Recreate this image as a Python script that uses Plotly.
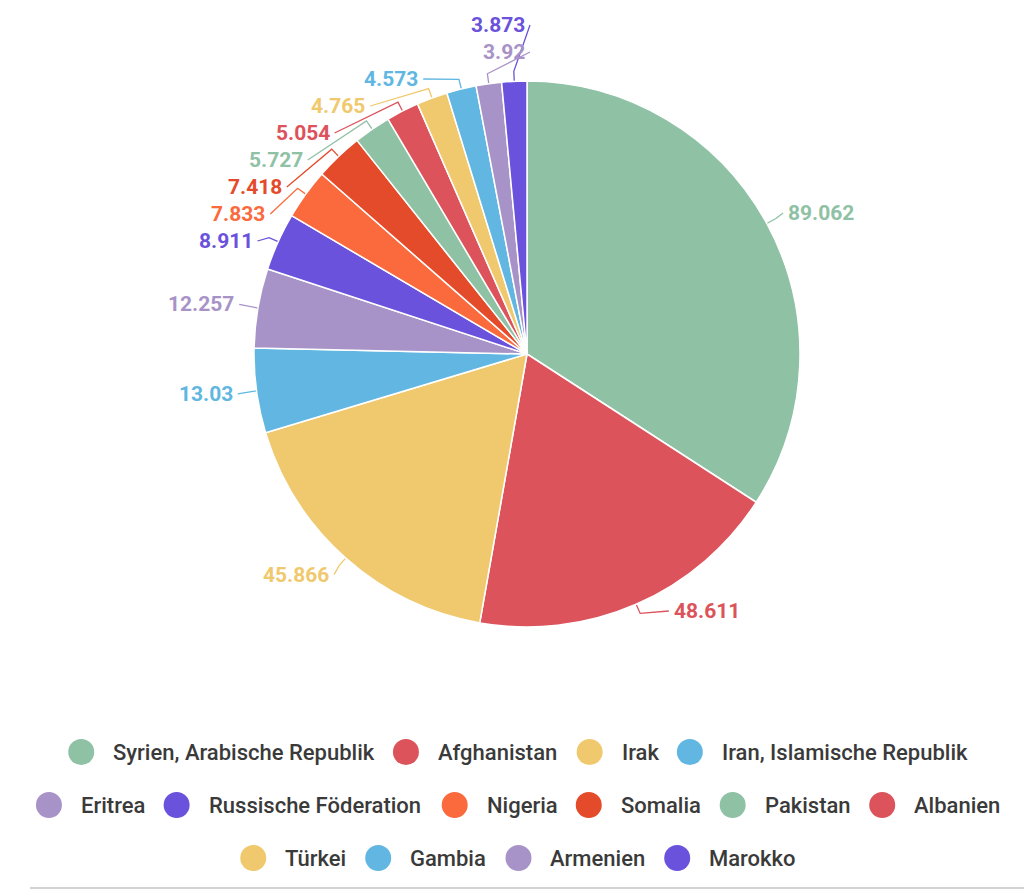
import math
import plotly.graph_objects as go

# ---------------- data ----------------
labels = ["Syrien, Arabische Republik", "Afghanistan", "Irak", "Iran, Islamische Republik",
          "Eritrea", "Russische Föderation", "Nigeria", "Somalia", "Pakistan", "Albanien",
          "Türkei", "Gambia", "Armenien", "Marokko"]
values = [89.062, 48.611, 45.866, 13.03, 12.257, 8.911, 7.833, 7.418, 5.727, 5.054,
          4.765, 4.573, 3.92, 3.873]
value_labels = ["89.062", "48.611", "45.866", "13.03", "12.257", "8.911", "7.833", "7.418",
                "5.727", "5.054", "4.765", "4.573", "3.92", "3.873"]
colors = ["#8fc1a5", "#dc535b", "#f0c96e", "#61b7e1", "#a893c8", "#6a52dc", "#fb6a3d",
          "#e44b2a", "#8fc1a5", "#dc535b", "#f0c96e", "#61b7e1", "#a893c8", "#6a52dc"]
legend_rows = [4, 6, 4]

# ---------------- geometry ----------------
W, H = 1024, 892
CX, CY, R = 527, 354, 273          # pie centre / radius in pixels
RL = 295                           # label radius
SP = 27                            # min label spacing
YMIN, YMAX = 25, 611
FONT = "Roboto, 'Open Sans', sans-serif"

total = sum(values)
mids = []
acc = 0.0
for v in values:
    mids.append((acc + v / 2) / total * 2 * math.pi)
    acc += v


def pt(a, r):
    return CX + r * math.sin(a), CY - r * math.cos(a)


# natural label y and side
nat = [CY - RL * math.cos(a) for a in mids]
side = [1 if a < math.pi else -1 for a in mids]


def layout_side(idx):
    idx = sorted(idx, key=lambda i: nat[i])
    clusters = [[i] for i in idx]

    def pos(cl):
        n = len(cl)
        c = sum(nat[i] for i in cl) / n
        top = c - (n - 1) * SP / 2
        top = max(YMIN, min(top, YMAX - (n - 1) * SP))
        return [top + k * SP for k in range(n)]

    changed = True
    while changed:
        changed = False
        for k in range(len(clusters) - 1):
            a, b = pos(clusters[k]), pos(clusters[k + 1])
            if b[0] - a[-1] < SP:
                clusters[k] = clusters[k] + clusters[k + 1]
                del clusters[k + 1]
                changed = True
                break
    ys = {}
    for cl in clusters:
        for i, y in zip(cl, pos(cl)):
            ys[i] = y
    return ys


ly = {}
ly.update(layout_side([i for i in range(len(values)) if side[i] == 1]))
ly.update(layout_side([i for i in range(len(values)) if side[i] == -1]))

fig = go.Figure()

# pie
fig.add_trace(go.Pie(
    labels=labels, values=values, sort=False, direction="clockwise", rotation=0,
    marker=dict(colors=colors, line=dict(color="white", width=1.5)),
    textinfo="none", hoverinfo="label+value", showlegend=False,
    domain=dict(x=[(CX - R) / W, (CX + R) / W], y=[(H - CY - R) / H, (H - CY + R) / H]),
))

annotations = []
for i, a in enumerate(mids):
    y = ly[i]
    dy = y - CY
    dx = math.sqrt(max(0.0, RL ** 2 - dy ** 2))
    x = CX + side[i] * dx
    p0 = pt(a, R)
    p1 = pt(a, R + 10)
    p2 = (x - side[i] * 3, y)
    fig.add_trace(go.Scatter(
        x=[p0[0], p1[0], p2[0]], y=[p0[1], p1[1], p2[1]], mode="lines",
        line=dict(color=colors[i], width=1.3), hoverinfo="skip", showlegend=False,
    ))
    annotations.append(dict(
        x=x, y=y, xref="x", yref="y", text=value_labels[i], showarrow=False,
        xanchor="left" if side[i] == 1 else "right", yanchor="middle",
        font=dict(family=FONT, size=21, color=colors[i], weight="bold"),
    ))

# ---------------- custom legend ----------------
CW = {'a': .544, 'b': .561, 'c': .523, 'd': .564, 'e': .530, 'f': .347, 'g': .561, 'h': .551,
      'i': .243, 'k': .507, 'l': .243, 'm': .876, 'n': .552, 'o': .570, 'p': .561, 'r': .338,
      's': .516, 't': .327, 'u': .551, 'y': .465, 'ö': .570, 'ü': .551, 'A': .652, 'E': .568,
      'F': .553, 'G': .682, 'I': .272, 'M': .872, 'N': .713, 'P': .631, 'R': .616, 'S': .593,
      'T': .597, ' ': .248, ',': .196}
LFS = 22.4


def tw(s):
    return sum(CW.get(ch, 0.55) for ch in s) * LFS


LEG_CX = 518
LEG_Y0, LEG_DY = 752, 53
DOT_R = 13
TXT_OFF = 31
GAP = 19

lx, lyy = [], []
start = 0
for r, n in enumerate(legend_rows):
    items = list(range(start, start + n))
    start += n
    widths = [DOT_R + TXT_OFF + tw(labels[i]) for i in items]
    total_w = sum(widths) + GAP * (n - 1)
    xcur = LEG_CX - total_w / 2
    yrow = LEG_Y0 + r * LEG_DY
    for i, wdt in zip(items, widths):
        cxd = xcur + DOT_R
        lx.append(cxd)
        lyy.append(yrow)
        annotations.append(dict(
            x=cxd + TXT_OFF - 1, y=yrow, xref="x", yref="y", text=labels[i], showarrow=False,
            xanchor="left", yanchor="middle",
            font=dict(family=FONT, size=22, color="#3a3a3a", weight=500),
        ))
        xcur += wdt + GAP

fig.add_trace(go.Scatter(
    x=lx, y=lyy, mode="markers", hoverinfo="skip", showlegend=False,
    marker=dict(size=2 * DOT_R, color=colors, line=dict(width=0)),
))

fig.update_layout(
    width=W, height=H, margin=dict(l=0, r=0, t=0, b=0),
    paper_bgcolor="white", plot_bgcolor="white", showlegend=False,
    xaxis=dict(range=[0, W], visible=False, fixedrange=True),
    yaxis=dict(range=[H, 0], visible=False, fixedrange=True),
    annotations=annotations,
    shapes=[dict(type="line", xref="paper", yref="paper", x0=30 / W, x1=1, y0=(H - 888) / H,
                 y1=(H - 888) / H, line=dict(color="#d3d3d3", width=2))],
)

fig.write_html("out.html")
